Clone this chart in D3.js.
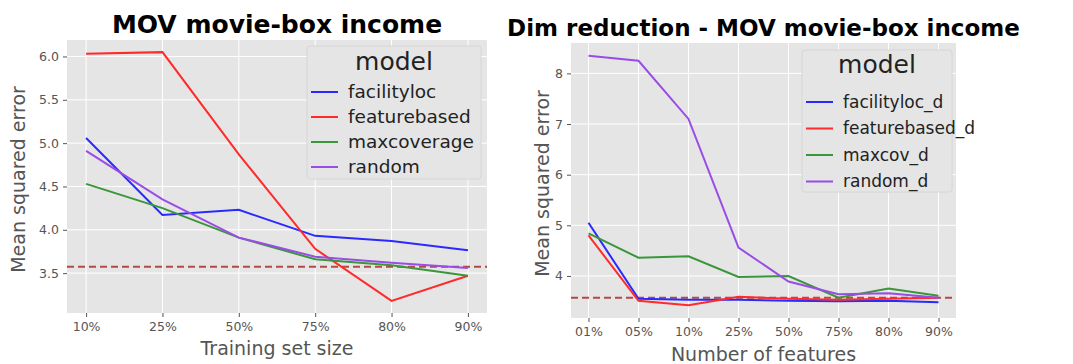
<!DOCTYPE html>
<html>
<head>
<meta charset="utf-8">
<script src="https://cdn.jsdelivr.net/npm/d3@7"></script>
<style>
  body { margin: 0; background: #fff; }
  svg { font-family: "DejaVu Sans", sans-serif; }
</style>
</head>
<body>
<div id="chart"></div>
<script>
// Left panel: training set size
const trainSizes = ["10%", "25%", "50%", "75%", "80%", "90%"];
const facilityloc = [5.06, 4.17, 4.23, 3.93, 3.87, 3.765];
const featurebased = [6.03, 6.05, 4.87, 3.78, 3.18, 3.47];
const maxcoverage = [4.53, 4.25, 3.91, 3.66, 3.59, 3.47];
const random = [4.91, 4.35, 3.91, 3.69, 3.62, 3.56];
const leftTicks = [3.5, 4.0, 4.5, 5.0, 5.5, 6.0];
const leftBaseline = 3.575;

// Right panel: number of features
const featureCounts = ["01%", "05%", "10%", "25%", "50%", "75%", "80%", "90%"];
const facilitylocD = [5.05, 3.55, 3.53, 3.53, 3.51, 3.50, 3.51, 3.48];
const featurebasedD = [4.80, 3.51, 3.42, 3.59, 3.55, 3.53, 3.55, 3.57];
const maxcovD = [4.84, 4.36, 4.39, 3.98, 4.00, 3.57, 3.75, 3.61];
const randomD = [8.35, 8.25, 7.10, 4.56, 3.89, 3.64, 3.66, 3.57];
const rightTicks = [4, 5, 6, 7, 8];
const rightBaseline = 3.57;

const colors = ["#2a2aff", "#ff2a2a", "#3a963a", "#9a4ce6"];

const svg = d3.select("#chart").append("svg")
    .attr("width", 1073)
    .attr("height", 364);

function drawPanel(cfg) {
    const g = svg.append("g")
        .attr("transform", "translate(" + cfg.left + "," + cfg.top + ")");

    const x = d3.scalePoint()
        .domain(cfg.categories)
        .range([0, cfg.width])
        .padding(cfg.pad);

    const y = d3.scaleLinear()
        .domain(cfg.yDomain)
        .range([cfg.height, 0]);

    // background
    g.append("rect")
        .attr("width", cfg.width)
        .attr("height", cfg.height)
        .attr("fill", "#e5e5e5");

    // grid
    g.selectAll(".hgrid")
        .data(cfg.yTicks)
        .enter()
        .append("line")
        .attr("x1", 0)
        .attr("x2", cfg.width)
        .attr("y1", d => y(d))
        .attr("y2", d => y(d))
        .attr("stroke", "#fff")
        .attr("stroke-width", 1);

    g.selectAll(".vgrid")
        .data(cfg.categories)
        .enter()
        .append("line")
        .attr("x1", d => x(d))
        .attr("x2", d => x(d))
        .attr("y1", 0)
        .attr("y2", cfg.height)
        .attr("stroke", "#fff")
        .attr("stroke-width", 1);

    // axes
    const xAxis = g.append("g")
        .attr("transform", "translate(0," + cfg.height + ")")
        .call(d3.axisBottom(x).tickSize(4).tickPadding(5));

    const yAxis = g.append("g")
        .call(d3.axisLeft(y).tickValues(cfg.yTicks).tickFormat(cfg.yFormat).tickSize(4).tickPadding(4));

    [xAxis, yAxis].forEach(a => {
        a.select(".domain").remove();
        a.selectAll("line").attr("stroke", "#555");
        a.selectAll("text")
            .attr("fill", "#555")
            .style("font-size", cfg.tickFont + "px")
            .style("font-family", "DejaVu Sans");
    });

    // dashed baseline
    g.append("line")
        .attr("x1", 0)
        .attr("x2", cfg.width)
        .attr("y1", y(cfg.baseline))
        .attr("y2", y(cfg.baseline))
        .attr("stroke", "#b34a45")
        .attr("stroke-width", 2)
        .attr("stroke-dasharray", "7,4");

    // lines
    const line = d3.line()
        .x((d, i) => x(cfg.categories[i]))
        .y(d => y(d));

    g.selectAll(".series")
        .data(cfg.series)
        .enter()
        .append("path")
        .attr("d", d => line(d.values))
        .attr("fill", "none")
        .attr("stroke", (d, i) => colors[i])
        .attr("stroke-width", 2);

    // title
    svg.append("text")
        .attr("x", cfg.left + cfg.width / 2)
        .attr("y", cfg.titleY)
        .attr("text-anchor", "middle")
        .style("font-size", cfg.titleFont + "px")
        .style("font-weight", "bold")
        .text(cfg.title);

    // axis labels
    svg.append("text")
        .attr("x", cfg.left + cfg.width / 2)
        .attr("y", cfg.xLabelY)
        .attr("text-anchor", "middle")
        .attr("fill", "#555")
        .style("font-size", cfg.labelFont + "px")
        .text(cfg.xLabel);

    svg.append("text")
        .attr("transform", "translate(" + cfg.yLabelX + "," + (cfg.top + cfg.height / 2 + 3) + ") rotate(-90)")
        .attr("text-anchor", "middle")
        .attr("fill", "#555")
        .style("font-size", cfg.labelFont + "px")
        .text("Mean squared error");

    // legend
    const lg = g.append("g")
        .attr("transform", "translate(" + cfg.legend.x + "," + cfg.legend.y + ")");

    lg.append("rect")
        .attr("width", cfg.legend.w)
        .attr("height", cfg.legend.h)
        .attr("rx", 3)
        .attr("fill", "#e5e5e5")
        .attr("stroke", "#d6d6d6");

    lg.append("text")
        .attr("x", cfg.legend.w / 2)
        .attr("y", cfg.legend.titleY)
        .attr("text-anchor", "middle")
        .attr("fill", "#222")
        .style("font-size", cfg.legend.titleFont + "px")
        .text("model");

    const items = lg.selectAll(".item")
        .data(cfg.series)
        .enter()
        .append("g")
        .attr("transform", (d, i) => "translate(0," + (cfg.legend.firstY + i * cfg.legend.step) + ")");

    items.append("line")
        .attr("x1", 4)
        .attr("x2", 31)
        .attr("stroke", (d, i) => colors[i])
        .attr("stroke-width", 2);

    items.append("text")
        .attr("x", 41)
        .attr("y", 0)
        .attr("dy", "0.35em")
        .attr("fill", "#222")
        .style("font-size", cfg.legend.font + "px")
        .text(d => d.name);
}

drawPanel({
    left: 67, top: 40, width: 420, height: 273, pad: 0.25,
    categories: trainSizes,
    series: [
        { name: "facilityloc", values: facilityloc },
        { name: "featurebased", values: featurebased },
        { name: "maxcoverage", values: maxcoverage },
        { name: "random", values: random }
    ],
    yDomain: [3.04, 6.19], yTicks: leftTicks, yFormat: d3.format(".1f"),
    baseline: leftBaseline,
    title: "MOV movie-box income", titleY: 33, titleFont: 25,
    xLabel: "Training set size", xLabelY: 355, yLabelX: 25,
    labelFont: 19, tickFont: 12.5,
    legend: { x: 240, y: 6, w: 174, h: 133, titleY: 24, titleFont: 25, font: 18.5, firstY: 46, step: 25 }
});

drawPanel({
    left: 571, top: 43, width: 385, height: 275, pad: 0.35,
    categories: featureCounts,
    series: [
        { name: "facilityloc_d", values: facilitylocD },
        { name: "featurebased_d", values: featurebasedD },
        { name: "maxcov_d", values: maxcovD },
        { name: "random_d", values: randomD }
    ],
    yDomain: [3.17, 8.6], yTicks: rightTicks, yFormat: d3.format("d"),
    baseline: rightBaseline,
    title: "Dim reduction - MOV movie-box income", titleY: 36, titleFont: 23,
    xLabel: "Number of features", xLabelY: 361, yLabelX: 549,
    labelFont: 19, tickFont: 12.5,
    legend: { x: 231, y: 7, w: 150, h: 142, titleY: 23, titleFont: 25, font: 17, firstY: 52, step: 26.5 }
});
</script>
</body>
</html>
